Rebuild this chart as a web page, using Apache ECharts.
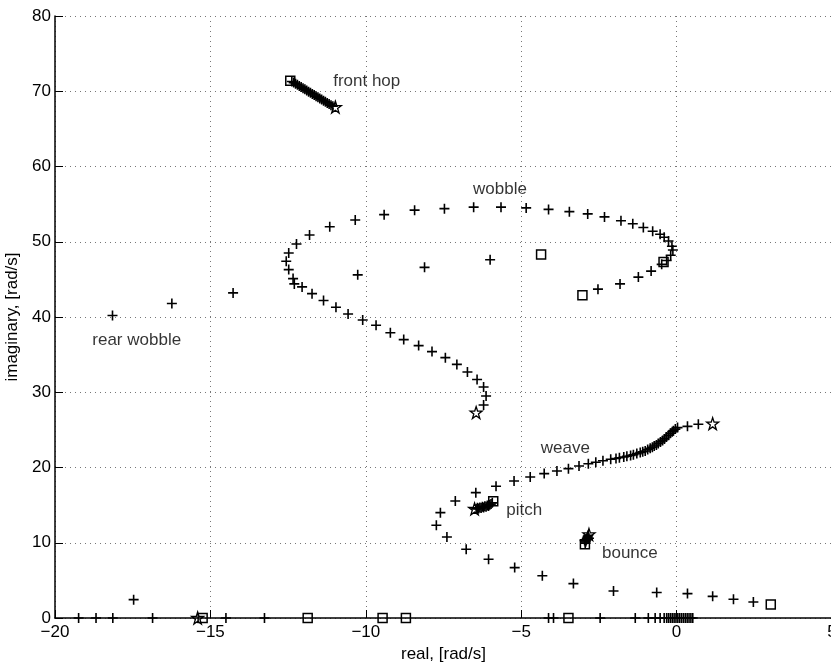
<!DOCTYPE html>
<html>
<head>
<meta charset="utf-8">
<script src="https://cdn.jsdelivr.net/npm/echarts@6/dist/echarts.min.js"></script>
<style>
  html, body { margin: 0; padding: 0; background: #fff; }
  #chart { width: 831px; height: 662px; }
</style>
</head>
<body>
<div id="chart"></div>
<script>
// root locus branches ([real, imag])
var frontHop = [[-12.38,71.3],[-12.32,71.15],[-12.26,71.0],[-12.2,70.85],[-12.14,70.7],[-12.08,70.55],
    [-12.02,70.4],[-11.96,70.25],[-11.9,70.1],[-11.84,69.95],[-11.78,69.8],[-11.72,69.65],[-11.66,69.5],
    [-11.6,69.35],[-11.54,69.2],[-11.48,69.05],[-11.42,68.9],[-11.36,68.75],[-11.3,68.6],[-11.24,68.45],
    [-11.18,68.3],[-11.12,68.15],[-11.06,68.0]];

var wobble = [[-2.53,43.7],[-1.82,44.4],[-1.23,45.3],[-0.82,46.1],[-0.48,47.0],[-0.32,47.5],[-0.19,48.2],
    [-0.12,48.9],[-0.15,49.4],[-0.26,50.1],[-0.40,50.6],[-0.53,51.0],[-0.77,51.4],[-1.07,51.9],[-1.41,52.4],
    [-1.79,52.8],[-2.32,53.3],[-2.86,53.7],[-3.45,54.0],[-4.12,54.3],[-4.84,54.5],[-5.65,54.6],[-6.53,54.6],
    [-7.47,54.4],[-8.43,54.2],[-9.41,53.6],[-10.34,52.9],[-11.16,52.0],[-11.81,50.9],[-12.23,49.7],[-12.48,48.5],
    [-12.56,47.4],[-12.48,46.3],[-12.34,45.1],[-12.30,44.4],[-12.05,44.0],[-11.73,43.1],[-11.36,42.2],
    [-10.96,41.3],[-10.57,40.4],[-10.1,39.6],[-9.67,38.9],[-9.21,37.9],[-8.78,37.0],[-8.30,36.2],[-7.87,35.4],
    [-7.44,34.6],[-7.07,33.7],[-6.73,32.7],[-6.42,31.7],[-6.21,30.7],[-6.13,29.5],[-6.21,28.3]];

var rearWobble = [[-6.0,47.6],[-8.11,46.6],[-10.26,45.6],[-14.27,43.2],[-16.24,41.8],[-18.15,40.2]];

var weave = [[2.47,2.13],[1.83,2.49],[1.16,2.88],[0.35,3.24],[-0.64,3.38],[-2.03,3.59],[-3.32,4.57],
    [-4.32,5.62],[-5.21,6.70],[-6.05,7.80],[-6.77,9.13],[-7.39,10.76],[-7.73,12.32],[-7.60,14.0],[-7.12,15.55],
    [-6.46,16.66],[-5.81,17.50],[-5.23,18.21],[-4.71,18.74],[-4.26,19.19],[-3.85,19.53],[-3.48,19.85],
    [-3.14,20.2],[-2.84,20.5],[-2.6,20.7],[-2.37,20.9],[-2.12,21.1],[-1.95,21.2],[-1.84,21.3],[-1.70,21.4],
    [-1.60,21.5],[-1.48,21.6],[-1.39,21.7],[-1.28,21.85],[-1.17,22.0],[-1.09,22.1],[-1.01,22.2],[-0.93,22.4],
    [-0.85,22.55],[-0.78,22.7],[-0.72,22.86],[-0.65,23.0],[-0.59,23.2],[-0.52,23.4],[-0.45,23.6],[-0.39,23.8],
    [-0.33,24.05],[-0.26,24.3],[-0.20,24.55],[-0.14,24.75],[-0.10,24.9],[-0.04,25.1],[0.03,25.3],[0.35,25.47],
    [0.7,25.74]];

var pitch = [[-6.45,14.5],[-6.41,14.65],[-6.37,14.55],[-6.33,14.7],[-6.29,14.62],[-6.25,14.78],[-6.21,14.7],
    [-6.17,14.86],[-6.13,14.8],[-6.09,14.95],[-6.05,14.9],[-6.01,15.05],[-5.97,15.15],[-5.93,15.3]];

var bounce = [[-2.94,9.95],[-2.93,10.1],[-2.92,10.25],[-2.9,10.4],[-2.89,10.55],[-2.87,10.7],[-2.86,10.85],
    [-2.84,11.0],[-2.96,10.3],[-2.82,10.6]];

var strayPoints = [[-17.47,2.44]];

// real-axis roots (imag = 0)
var realAxisX = [-19.24,-18.68,-18.14,-16.86,-14.5,-13.26,-4.12,-3.96,-2.46,-1.33,-0.91,-0.69,-0.53,-0.40,
    -0.32,-0.26,-0.2,-0.14,-0.08,-0.02,0.04,0.1,0.16,0.22,0.28,0.34,0.4,0.46,0.52];

// start (square) and end (star) markers
var squarePoints = [[-12.43,71.4],[-3.03,42.9],[-4.36,48.3],[-0.42,47.3],[3.03,1.78],[-5.9,15.5],[-2.95,9.8],
    [-15.25,0],[-11.87,0],[-9.46,0],[-8.71,0],[-3.48,0]];
var starPoints = [[-10.98,67.9],[-6.45,27.3],[1.16,25.83],[-6.5,14.5],[-2.82,11.1],[-15.41,0]];

// mode labels
var labelNames = ['front hop', 'wobble', 'rear wobble', 'weave', 'pitch', 'bounce'];
var labelPos = [[-11.05,71.3],[-6.55,57.0],[-18.80,36.9],[-4.37,22.55],[-5.48,14.25],[-2.40,8.65]];

var xTicks = { min: -20, max: 5, step: 5 };
var yTicks = { min: 0, max: 80, step: 10 };

var plusPath = 'path://M4.2,0H5.8V10H4.2Z M0,4.2H10V5.8H0Z';
var starPath = 'path://M50,4 L61,38 L97,38 L68,60 L79,95 L50,74 L21,95 L32,60 L3,38 L39,38 Z';
var ink = '#000';
var font = '"Liberation Sans", Arial, Helvetica, sans-serif';

function plusSeries(name, data) {
    return {
        type: 'scatter', name: name, data: data,
        symbol: plusPath, symbolSize: 10, symbolKeepAspect: true,
        itemStyle: { color: ink, opacity: 1 }, z: 3, silent: true
    };
}

var realAxisPoints = realAxisX.map(function(x) { return [x, 0]; });
var labelData = labelNames.map(function(n, i) {
    return { name: n, value: labelPos[i] };
});

function minusFmt(v) { return String(v).replace('-', '\u2212'); }

var option = {
    animation: false,
    backgroundColor: '#fff',
    grid: { left: 55, top: 16, width: 777, height: 602, containLabel: false, outerBoundsMode: 'none' },
    xAxis: {
        type: 'value', min: xTicks.min, max: xTicks.max, interval: xTicks.step,
        name: 'real, [rad/s]', nameLocation: 'middle', nameGap: 22,
        nameTextStyle: { fontFamily: font, fontSize: 17, color: '#000' },
        axisLine: { show: true, onZero: false, lineStyle: { color: '#000', width: 1.5 } },
        axisTick: { show: true, inside: true, length: 8, lineStyle: { color: '#000' } },
        axisLabel: { fontFamily: font, fontSize: 17, color: '#000', margin: 6, formatter: minusFmt },
        splitLine: { show: true, lineStyle: { color: '#777', type: [1, 4], width: 1 } }
    },
    yAxis: {
        type: 'value', min: yTicks.min, max: yTicks.max, interval: yTicks.step,
        name: 'imaginary, [rad/s]', nameLocation: 'middle', nameGap: 30,
        nameTextStyle: { fontFamily: font, fontSize: 17, color: '#000' },
        axisLine: { show: true, onZero: false, lineStyle: { color: '#000', width: 1.5 } },
        axisTick: { show: true, inside: true, length: 8, lineStyle: { color: '#000' } },
        axisLabel: { fontFamily: font, fontSize: 17, color: '#000', margin: 4 },
        splitLine: { show: true, lineStyle: { color: '#777', type: [1, 4], width: 1 } }
    },
    series: [
        plusSeries('front hop', frontHop),
        plusSeries('wobble', wobble),
        plusSeries('rear wobble', rearWobble),
        plusSeries('weave', weave),
        plusSeries('pitch', pitch),
        plusSeries('bounce', bounce),
        plusSeries('stray', strayPoints),
        plusSeries('real axis', realAxisPoints),
        {
            type: 'scatter', name: 'start', data: squarePoints,
            symbol: 'rect', symbolSize: 9, z: 4, silent: true,
            itemStyle: { color: 'rgba(0,0,0,0)', borderColor: ink, borderWidth: 1.5, opacity: 1 }
        },
        {
            type: 'scatter', name: 'end', data: starPoints,
            symbol: starPath, symbolSize: 12, z: 4, silent: true,
            itemStyle: { color: 'rgba(0,0,0,0)', borderColor: ink, borderWidth: 1.3, opacity: 1 }
        },
        {
            type: 'scatter', name: 'labels', data: labelData,
            symbolSize: 0, z: 5, silent: true,
            label: {
                show: true, position: 'right', distance: 0,
                formatter: '{b}', fontFamily: font, fontSize: 17, color: '#000'
            }
        }
    ]
};

var myChart = echarts.init(document.getElementById('chart'), null, { renderer: 'canvas' });
myChart.setOption(option);
</script>
</body>
</html>
